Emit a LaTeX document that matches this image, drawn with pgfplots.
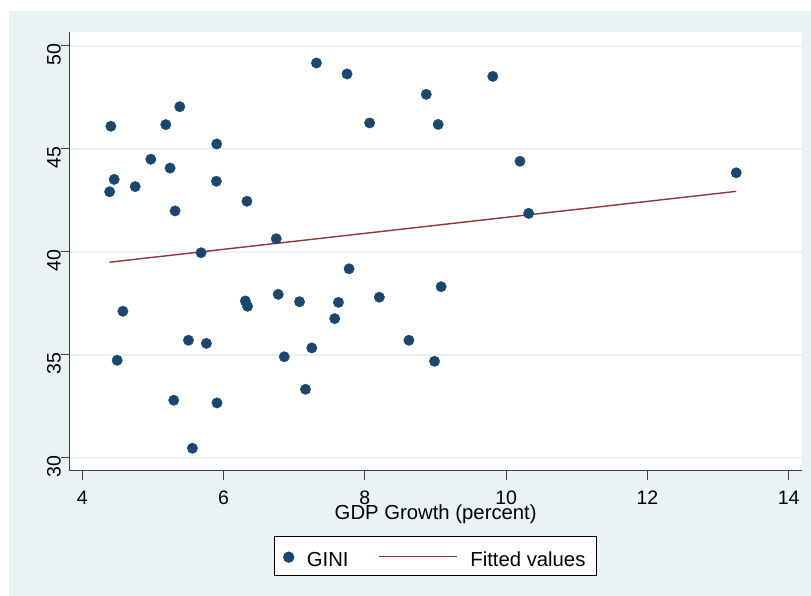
\documentclass[border=0pt]{standalone}
\usepackage{fontspec}
\setmainfont{Liberation Sans}
\usepackage{pgfplots}
\pgfplotsset{compat=1.18}
\definecolor{bgcol}{HTML}{EAF2F3}
\definecolor{ginicol}{HTML}{1A476F}
\definecolor{fitcol}{HTML}{90353B}
\pgfplotsset{
  ginileg/.style={legend image code/.code={\path (0pt,0pt) (31pt,0pt);
    \draw[mark repeat=2, mark phase=2, ##1] plot coordinates {(0pt,9pt) (13.3pt,9pt) (26.6pt,9pt)};}},
  fitleg/.style={legend image code/.code={\path (0pt,0pt) (120.4pt,0pt);
    \draw[##1] (29.4pt,9.7pt) -- (108pt,9.7pt);}},
}
\begin{document}
\begin{tikzpicture}
\useasboundingbox (0pt,0pt) rectangle (811pt,-596pt);
\fill[bgcol] (9pt,-11pt) rectangle (811pt,-596pt);
\begin{axis}[
  at={(69.7pt,-470.7pt)}, anchor=south west,
  scale only axis, width=732pt, height=438.7pt,
  xmin=3.822, xmax=14.184, ymin=29.369, ymax=50.665,
  axis background/.style={fill=white},
  axis x line*=bottom, axis y line*=left,
  axis line style={-, black!75, line width=0.9pt},
  xtick={4,6,8,10,12,14}, ytick={30,35,40,45,50},
  tick align=outside, major tick length=9pt,
  tick style={black!75, line width=0.9pt},
  ymajorgrids, grid style={bgcol, line width=2pt},
  /pgf/number format/assume math mode=true,
  ticklabel style={font=\fontsize{19.5}{20}\selectfont},
  xticklabel style={yshift=-8pt},
  yticklabel style={rotate=90, anchor=base, xshift=-9pt},
  xlabel={GDP Growth (percent)},
  xlabel style={at={(axis description cs:0.5,-0.1101)}, anchor=base, inner sep=0pt, font=\fontsize{20.3}{21}\selectfont},
  legend columns=2,
  legend style={at={(axis description cs:0.5,-0.1495)}, anchor=north,
    draw=black, line width=0.9pt, fill=white, inner xsep=0pt, inner ysep=0pt,
    column sep=0pt,
    font=\fontsize{20.3}{21}\selectfont,
    cells={anchor=base west},
    nodes={inner sep=0pt, text height=29.4pt, text depth=9.3pt, anchor=base west}},
]
\addplot[only marks, mark=*, mark size=5.2pt, color=ginicol, fill=ginicol, ginileg]
coordinates {
(4.405,46.09) (4.452,43.51) (4.387,42.91) (4.749,43.16) (4.970,44.49)
(5.182,46.17) (5.380,47.04) (5.243,44.06) (5.314,41.98) (5.903,45.23)
(5.898,43.42) (6.331,42.45) (5.681,39.95) (6.746,40.63) (7.315,49.16)
(7.748,48.63) (8.068,46.25) (7.777,39.17) (8.869,47.64) (9.811,48.51)
(9.038,46.18) (10.196,44.39) (13.257,43.83) (10.319,41.86) (9.080,38.30)
(4.575,37.11) (4.494,34.73) (5.503,35.70) (5.757,35.55) (5.295,32.79)
(5.907,32.66) (5.559,30.46) (6.308,37.61) (6.340,37.35) (6.774,37.93)
(7.075,37.57) (7.626,37.54) (7.573,36.75) (8.205,37.79) (6.859,34.90)
(7.249,35.33) (7.160,33.32) (8.624,35.70) (8.986,34.68)
};
\addlegendentry{GINI}
\addplot[fitcol, line width=1.4pt, mark=none, fitleg]
coordinates {(4.387,39.49) (13.257,42.93)};
\addlegendentry{Fitted values\kern11pt}
\end{axis}
\end{tikzpicture}
\end{document}
